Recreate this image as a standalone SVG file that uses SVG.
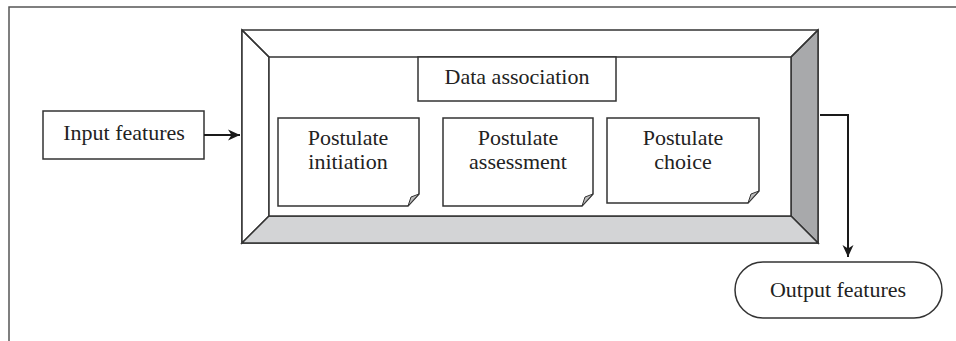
<svg xmlns="http://www.w3.org/2000/svg" width="956" height="341" viewBox="0 0 956 341">
<defs>
<style>
.ln{fill:none;stroke:#333;stroke-width:1.5}
.cn{fill:none;stroke:#1a1a1a;stroke-width:2}
.bx{fill:#fff;stroke:#333;stroke-width:1.5}
.t{font-family:"Liberation Serif","Times New Roman",serif;font-size:22px;fill:#222;text-anchor:middle}
.curl{fill:#bbb;stroke:#333;stroke-width:1}
</style>
<marker id="ah" markerWidth="14" markerHeight="12" refX="12" refY="6" orient="auto" markerUnits="userSpaceOnUse">
<path d="M0,0.5 L12,6 L0,11.5 L3.5,6 Z" fill="#1a1a1a"/>
</marker>
</defs>
<rect width="956" height="341" fill="#fff"/>
<path d="M9,341 V7 H956" fill="none" stroke="#555" stroke-width="1.5"/>

<g id="processor">
<rect x="242" y="30" width="576" height="213" class="bx"/>
<path d="M242,30 L269,57 L269,216 L242,243 Z" class="bx"/>
<path d="M818,30 L818,243 L791,216 L791,57 Z" fill="#a8a9ab" stroke="#333" stroke-width="1.5"/>
<path d="M242,243 L269,216 L791,216 L818,243 Z" fill="#d3d4d6" stroke="#333" stroke-width="1.5"/>
<path d="M242,30 L269,57 M818,30 L791,57" class="ln"/>
<rect x="269" y="57" width="522" height="159" class="bx"/>
</g>

<g id="data-association">
<rect x="418" y="57" width="198" height="44" class="bx"/>
<text x="517" y="84" class="t">Data association</text>
</g>

<g id="postulate-initiation">
<path d="M278,118 H419 V194 L408,206 H278 Z" class="bx"/>
<path d="M419,194 L408,206 L411,197 Z" class="curl"/>
<text x="348" y="145" class="t">Postulate</text>
<text x="348" y="169" class="t">initiation</text>
</g>

<g id="postulate-assessment">
<path d="M443,118 H593 V194 L582,206 H443 Z" class="bx"/>
<path d="M593,194 L582,206 L585,197 Z" class="curl"/>
<text x="518" y="145" class="t">Postulate</text>
<text x="518" y="169" class="t">assessment</text>
</g>

<g id="postulate-choice">
<path d="M607,118 H759 V191 L748,203 H607 Z" class="bx"/>
<path d="M759,191 L748,203 L751,194 Z" class="curl"/>
<text x="683" y="145" class="t">Postulate</text>
<text x="683" y="169" class="t">choice</text>
</g>

<g id="input-features">
<rect x="43" y="111" width="161" height="48" class="bx"/>
<text x="124" y="140" class="t">Input features</text>
</g>

<g id="output-features">
<rect x="735" y="262" width="207" height="56" rx="28" ry="28" class="bx"/>
<text x="838" y="297" class="t">Output features</text>
</g>

<g id="connectors">
<path d="M204,135 H240" class="cn" marker-end="url(#ah)"/>
<path d="M820,115 H848 V257" class="cn" marker-end="url(#ah)"/>
</g>
</svg>
